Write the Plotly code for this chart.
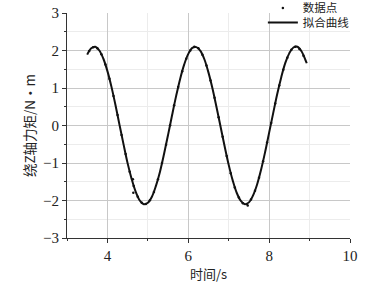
import plotly.graph_objects as go

# Fitted curve
fit_x = [3.5, 3.6, 3.7, 3.8, 3.9, 4.0, 4.1, 4.2, 4.3, 4.4, 4.5, 4.6, 4.7, 4.8, 4.9,
         5.0, 5.1, 5.2, 5.3, 5.4, 5.5, 5.6, 5.7, 5.8, 5.9, 6.0, 6.1, 6.2, 6.3, 6.4,
         6.5, 6.6, 6.7, 6.8, 6.9, 7.0, 7.1, 7.2, 7.3, 7.4, 7.5, 7.6, 7.7, 7.8, 7.9,
         8.0, 8.1, 8.2, 8.3, 8.4, 8.5, 8.6, 8.7, 8.8, 8.9, 8.93]
fit_y = [1.89, 2.06, 2.10, 2.00, 1.78, 1.45, 1.03, 0.54, 0.01, -0.51, -1.01, -1.43, -1.77, -2.00, -2.10,
         -2.06, -1.90, -1.61, -1.23, -0.76, -0.25, 0.28, 0.79, 1.25, 1.63, 1.91, 2.07, 2.09, 1.99, 1.76,
         1.41, 0.98, 0.48, -0.04, -0.56, -1.05, -1.47, -1.80, -2.01, -2.10, -2.05, -1.87, -1.58, -1.18, -0.71,
         -0.19, 0.33, 0.84, 1.29, 1.67, 1.93, 2.08, 2.10, 1.98, 1.74, 1.66]

pts_x = [3.55, 3.65, 3.75, 3.85, 3.95, 4.05, 4.15, 4.25, 4.35, 4.45, 4.55, 4.63, 4.64, 4.65, 4.75,
         4.85, 4.95, 5.05, 5.15, 5.25, 5.35, 5.45, 5.55, 5.65, 5.75, 5.85, 5.95, 6.05, 6.15, 6.25,
         6.35, 6.45, 6.55, 6.65, 6.75, 6.85, 6.95, 7.05, 7.15, 7.25, 7.35, 7.45, 7.47, 7.55, 7.65,
         7.75, 7.85, 7.95, 8.05, 8.15, 8.25, 8.35, 8.45, 8.55, 8.65, 8.75, 8.85]
pts_y = [1.99, 2.09, 2.06, 1.90, 1.63, 1.25, 0.79, 0.28, -0.25, -0.76, -1.23, -1.43, -1.79, -1.61, -1.90,
         -2.06, -2.09, -1.99, -1.77, -1.43, -1.00, -0.51, 0.01, 0.54, 1.03, 1.45, 1.78, 2.00, 2.10, 2.06,
         1.89, 1.60, 1.20, 0.74, 0.22, -0.30, -0.81, -1.27, -1.65, -1.92, -2.07, -2.09, -2.13, -1.97, -1.74,
         -1.39, -0.95, -0.45, 0.07, 0.59, 1.07, 1.49, 1.81, 2.02, 2.10, 2.04, 1.86]

x_tickvals = [4, 6, 8, 10]
y_tickvals = [-3, -2, -1, 0, 1, 2, 3]

serif = "Liberation Serif, Times New Roman, serif"
cjk = "Noto Sans CJK SC, Liberation Serif"

fig = go.Figure()
fig.add_trace(go.Scatter(x=pts_x, y=pts_y, mode="markers", name="数据点", legend="legend",
                         marker=dict(color="#111", size=2.5)))
fig.add_trace(go.Scatter(x=fit_x, y=fit_y, mode="lines", name="拟合曲线", legend="legend2",
                         line=dict(color="#111", width=2, shape="spline")))

leg_common = dict(xref="container", yref="container", xanchor="left", yanchor="middle",
                  bgcolor="rgba(0,0,0,0)", font=dict(family=cjk, size=11.5, color="#222"),
                  itemwidth=30, borderwidth=0)

fig.update_layout(
    width=386, height=284,
    margin=dict(l=67, r=36, t=13, b=46, autoexpand=False),
    paper_bgcolor="white", plot_bgcolor="white",
    showlegend=True,
    legend=dict(x=0.681, y=0.972, **leg_common),
    legend2=dict(x=0.681, y=0.921, **leg_common),
    xaxis=dict(range=[3, 10], tickvals=x_tickvals, ticks="outside", ticklen=4,
               tickcolor="#333", showline=True, linecolor="#333", linewidth=1,
               showgrid=True, gridcolor="#c8c8c8", gridwidth=1, zeroline=False,
               automargin=False,
               tickfont=dict(family=serif, size=15, color="#222"),
               minor=dict(dtick=1, tick0=0, ticks="outside", ticklen=2, tickcolor="#333",
                          showgrid=True, gridcolor="#ececec"),
               title=dict(text="时间/s", font=dict(family=cjk, size=13, color="#222"), standoff=0)),
    yaxis=dict(range=[-3, 3], tickvals=y_tickvals, ticks="outside", ticklen=4,
               tickcolor="#333", showline=True, linecolor="#333", linewidth=1,
               showgrid=True, gridcolor="#c8c8c8", gridwidth=1, zeroline=False,
               automargin=False,
               tickfont=dict(family=serif, size=15, color="#222"),
               minor=dict(dtick=0.5, tick0=0, ticks="outside", ticklen=2, tickcolor="#333",
                          showgrid=True, gridcolor="#ececec"),
               title=dict(text="绕Z轴力矩/N·m", font=dict(family=cjk, size=13.5, color="#222"), standoff=4)),
)

fig.write_html("out.html", config={"displayModeBar": False},
               post_script="document.body.style.margin='0';")
